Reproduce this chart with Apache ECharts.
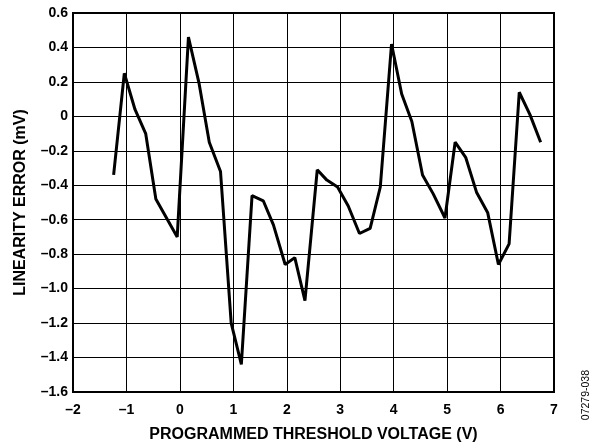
<!DOCTYPE html>
<html>
<head>
<meta charset="utf-8">
<script src="https://cdn.jsdelivr.net/npm/echarts@6/dist/echarts.min.js"></script>
<style>
html,body{margin:0;padding:0;background:#fff;}
#chart{width:594px;height:448px;}
</style>
</head>
<body>
<div id="chart"></div>
<script>
const xValues = [-1.24, -1.04, -0.84, -0.64, -0.45, -0.05, 0.16, 0.36, 0.55, 0.76, 0.96, 1.15, 1.35, 1.56, 1.75, 1.97, 2.15, 2.34, 2.57, 2.75, 2.95, 3.15, 3.36, 3.56, 3.75, 3.96, 4.15, 4.34, 4.54, 4.74, 4.96, 5.15, 5.35, 5.55, 5.76, 5.96, 6.16, 6.35, 6.55, 6.75];
const yValues = [-0.34, 0.25, 0.04, -0.10, -0.48, -0.70, 0.46, 0.19, -0.15, -0.32, -1.20, -1.44, -0.46, -0.49, -0.63, -0.86, -0.82, -1.07, -0.31, -0.37, -0.41, -0.52, -0.68, -0.65, -0.41, 0.42, 0.13, -0.03, -0.34, -0.45, -0.59, -0.15, -0.24, -0.44, -0.56, -0.86, -0.74, 0.14, 0.01, -0.15];
const xTitle = 'PROGRAMMED THRESHOLD VOLTAGE (V)';
const yTitle = 'LINEARITY ERROR (mV)';
const figureId = '07279-038';

const seriesData = xValues.map((x, i) => [x, yValues[i]]);
const dash = s => String(s).replace('-', '\u2013');
const font = 'Liberation Sans, Arial, sans-serif';

const chart = echarts.init(document.getElementById('chart'), null, {renderer: 'canvas'});
chart.setOption({
  animation: false,
  backgroundColor: '#fff',
  grid: {left: 73, top: 13, right: 40, bottom: 52, show: true, borderColor: '#000', borderWidth: 2, backgroundColor: 'transparent'},
  xAxis: {
    type: 'value', min: -2, max: 7, interval: 1,
    name: xTitle, nameLocation: 'middle', nameGap: 35,
    nameTextStyle: {fontFamily: font, fontWeight: 'bold', fontSize: 16, color: '#000'},
    axisLine: {show: true, onZero: false, lineStyle: {color: '#000', width: 2}},
    axisTick: {show: false},
    axisLabel: {fontFamily: font, fontWeight: 'bold', fontSize: 14, color: '#000', margin: 11, formatter: v => dash(v)},
    splitLine: {show: true, lineStyle: {color: '#000', width: 1}}
  },
  yAxis: {
    type: 'value', min: -1.6, max: 0.6, interval: 0.2,
    name: yTitle, nameLocation: 'middle', nameGap: 44, nameRotate: 90,
    nameTextStyle: {fontFamily: font, fontWeight: 'bold', fontSize: 16, color: '#000'},
    axisLine: {show: true, onZero: false, lineStyle: {color: '#000', width: 2}},
    axisTick: {show: false},
    axisLabel: {fontFamily: font, fontWeight: 'bold', fontSize: 14, color: '#000', margin: 5,
      formatter: v => { const r = Math.round(v * 10) / 10; return r === 0 ? '0' : dash(r.toFixed(1)); }},
    splitLine: {show: true, lineStyle: {color: '#000', width: 1}}
  },
  graphic: [{
    type: 'text', left: 581, top: 370, rotation: Math.PI / 2,
    style: {text: figureId, font: '10.5px ' + font, fill: '#000'}
  }],
  series: [{
    type: 'line', data: seriesData, showSymbol: false, symbol: 'none',
    lineStyle: {color: '#000', width: 3}, z: 5
  }]
});
</script>
</body>
</html>
